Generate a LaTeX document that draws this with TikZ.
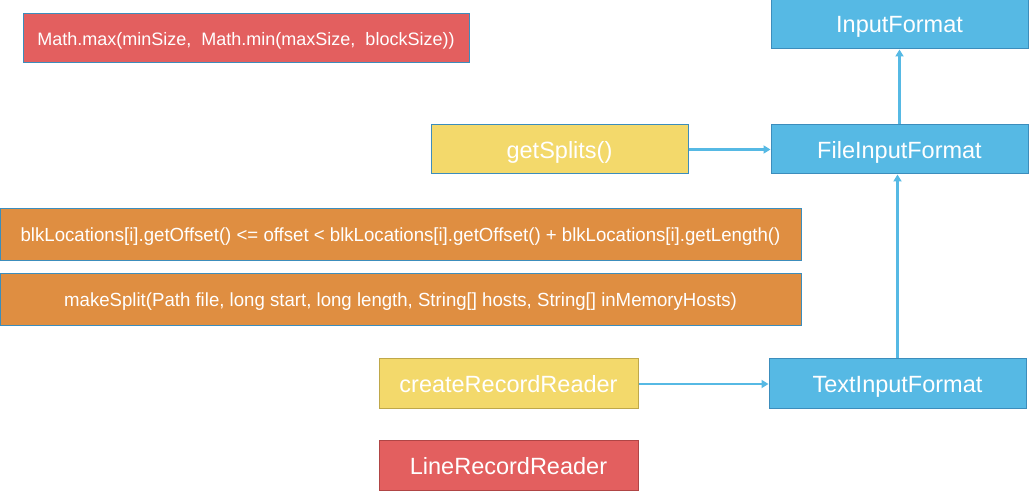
\documentclass[tikz,border=0pt]{standalone}
\usepackage{fontspec}
\setmainfont{Liberation Sans}
\usetikzlibrary{arrows.meta}
\definecolor{cred}{HTML}{E35F5F}
\definecolor{credb}{HTML}{B04545}
\definecolor{cblue}{HTML}{56B9E4}
\definecolor{cblueb}{HTML}{3C8DBC}
\definecolor{cyel}{HTML}{F3D96B}
\definecolor{cyelb}{HTML}{BFA84A}
\definecolor{corg}{HTML}{DF8E41}
\definecolor{carrow}{HTML}{56B9E4}
\tikzset{
  basebox/.style={rectangle, inner sep=0pt, line width=1pt, text=white, text depth=0pt, font=\fontsize{23.5}{28}\selectfont},
  redbox/.style={basebox, fill=cred, draw=credb},
  bluebox/.style={basebox, fill=cblue, draw=cblueb},
  yelbox/.style={basebox, fill=cyel, draw=cblueb},
  yelboxb/.style={basebox, fill=cyel, draw=cyelb},
  orgbox/.style={basebox, fill=corg, draw=cblueb, font=\fontsize{19}{23}\selectfont},
  conn/.style={draw=carrow, line width=2.6pt, -{Triangle[length=7pt,width=8pt]}}
}
\begin{document}
\begin{tikzpicture}[x=1pt,y=-1pt]
\useasboundingbox (0,0) rectangle (1029,494);
\node[redbox, draw=cblueb, minimum width=446pt, minimum height=49pt, font=\fontsize{18}{22}\selectfont] (math) at (246,38.5) {Math.max(minSize,\ \ Math.min(maxSize,\ \ blockSize))};
\node[bluebox, minimum width=257pt, minimum height=49pt] (inputf) at (899.5,24.5) {InputFormat};
\node[yelbox, minimum width=257pt, minimum height=49pt] (splits) at (559.5,149.5) {getSplits()};
\node[bluebox, minimum width=257pt, minimum height=49pt] (fileif) at (899.5,149.5) {FileInputFormat};
\node[orgbox, minimum width=801pt, minimum height=52pt] (blk) at (400.5,235) {\scalebox{0.98}[1]{blkLocations[i].getOffset() <= offset < blkLocations[i].getOffset() + blkLocations[i].getLength()}};
\node[orgbox, minimum width=801pt, minimum height=52pt] (make) at (400.5,300) {\scalebox{0.98}[1]{makeSplit(Path file, long start, long length, String[] hosts, String[] inMemoryHosts)}};
\node[yelboxb, minimum width=259pt, minimum height=50pt] (create) at (508.5,384) {createRecordReader};
\node[bluebox, minimum width=257pt, minimum height=50pt] (textif) at (897.5,384) {TextInputFormat};
\node[redbox, minimum width=259pt, minimum height=49pt] (line) at (508.5,465.5) {LineRecordReader};
\draw[conn] (splits.east) -- (fileif.west);
\draw[conn] (fileif.north) -- (inputf.south);
\draw[conn] (textif.north) -- (textif.north |- fileif.south);
\draw[conn] (create.east) -- (textif.west);
\end{tikzpicture}
\end{document}
